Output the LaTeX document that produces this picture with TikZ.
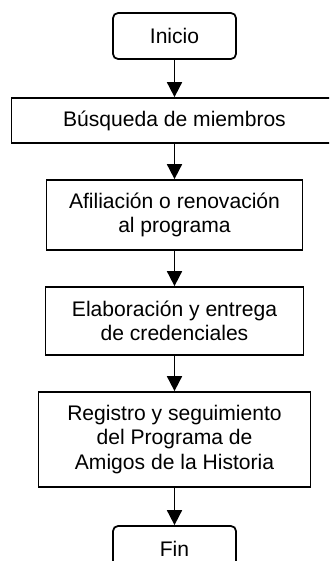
\documentclass[tikz,border=0pt]{standalone}
\usepackage{fontspec}
\setmainfont{Liberation Sans}
\usepackage{tikz}
\usetikzlibrary{arrows.meta}

\tikzset{
  paso/.style={draw, line width=1pt, align=center, inner sep=2pt,
    font=\fontsize{12}{13.8}\selectfont},
  limite/.style={paso, rounded corners=0.1cm, minimum width=2.46cm, minimum height=0.92cm},
  flecha/.style={line width=1pt, -{Triangle[width=0.3cm,length=0.3cm]}}
}

\begin{document}
\begin{tikzpicture}[x=0.02cm, y=-0.02cm]
    \clip (0,0) rectangle (329,561);
    \node[limite] (ini) at (174.5,36) {Inicio};
    \node[paso, minimum width=6.52cm, minimum height=0.9cm] (busq) at (174.5,120.5) {Búsqueda de miembros};
    \node[paso, minimum width=5.12cm, minimum height=1.4cm] (afil) at (174.5,215) {Afiliación o renovación\\al programa};
    \node[paso, minimum width=5.16cm, minimum height=1.36cm] (elab) at (174.5,321) {Elaboración y entrega\\de credenciales};
    \node[paso, minimum width=5.44cm, minimum height=1.9cm] (reg) at (174.5,439.5) {Registro y seguimiento\\del Programa de\\Amigos de la Historia};
    \node[limite] (fin) at (174.5,549) {Fin};
    \draw[flecha] (ini) -- (busq);
    \draw[flecha] (busq) -- (afil);
    \draw[flecha] (afil) -- (elab);
    \draw[flecha] (elab) -- (reg);
    \draw[flecha] (reg) -- (fin);
\end{tikzpicture}
\end{document}
